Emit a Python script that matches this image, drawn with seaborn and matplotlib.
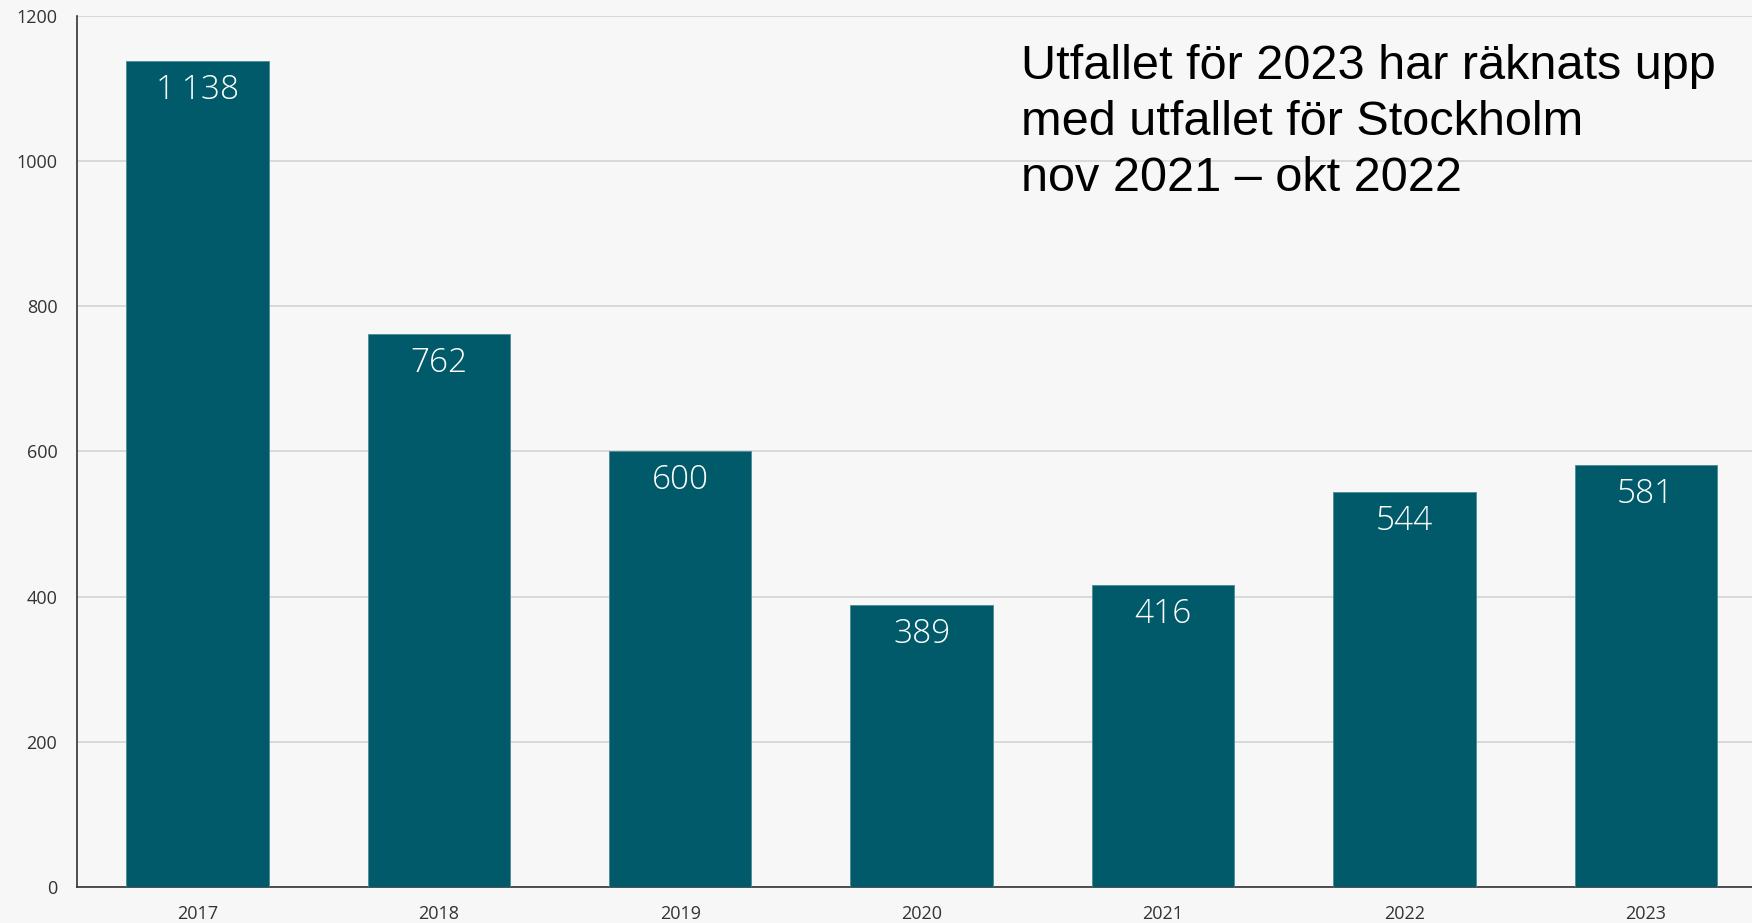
import seaborn as sns
import matplotlib.pyplot as plt
import pandas as pd

# Data
years = ['2017', '2018', '2019', '2020', '2021', '2022', '2023']
values = [1138, 762, 600, 389, 416, 544, 581]
y_ticks = [0, 200, 400, 600, 800, 1000, 1200]
note = 'Utfallet för 2023 har räknats upp\nmed utfallet för Stockholm\nnov 2021 – okt 2022'

data = pd.DataFrame({'År': years, 'Antal': values})

sns.set_style("white")
plt.rcParams['font.family'] = ['Open Sans', 'DejaVu Sans']

bg = '#f7f7f7'
bar_color = '#005a69'

fig = plt.figure(figsize=(17.52, 9.23), dpi=100, facecolor=bg)
ax = fig.add_axes([0.0438, 0.039, 0.9562, 0.9437], facecolor=bg)

sns.barplot(data=data, x='År', y='Antal', color=bar_color, width=0.59,
            saturation=1, edgecolor='#4d8c96', linewidth=0.6, ax=ax, zorder=3)

ax.set_ylim(0, 1200)
ax.set_xlim(-0.5, 6.44)
ax.set_yticks(y_ticks)
ax.yaxis.grid(True, color='#d0d0d0', linewidth=1.1, zorder=0)
ax.set_axisbelow(True)

for s in ['top', 'right']:
    ax.spines[s].set_visible(False)
for s in ['left', 'bottom']:
    ax.spines[s].set_color('#333333')
    ax.spines[s].set_linewidth(1.2)

ax.tick_params(axis='both', length=0, labelsize=13, colors='#333333')
ax.tick_params(axis='x', pad=13)
ax.tick_params(axis='y', pad=14)
ax.set_xlabel('')
ax.set_ylabel('')

# value labels inside the bars
for i, v in enumerate(values):
    label = f'{v:,}'.replace(',', '\u2009')
    ax.annotate(label, (i, v), xytext=(0, -9), textcoords='offset points',
                ha='center', va='top', color='white', fontsize=24,
                fontweight='light')

fig.text(1021 / 1752, 1 - 44 / 923, note, ha='left', va='top',
         fontsize=35, family='Liberation Sans', color='black', linespacing=1.32)

plt.savefig('out.png', dpi=100, facecolor=bg)
